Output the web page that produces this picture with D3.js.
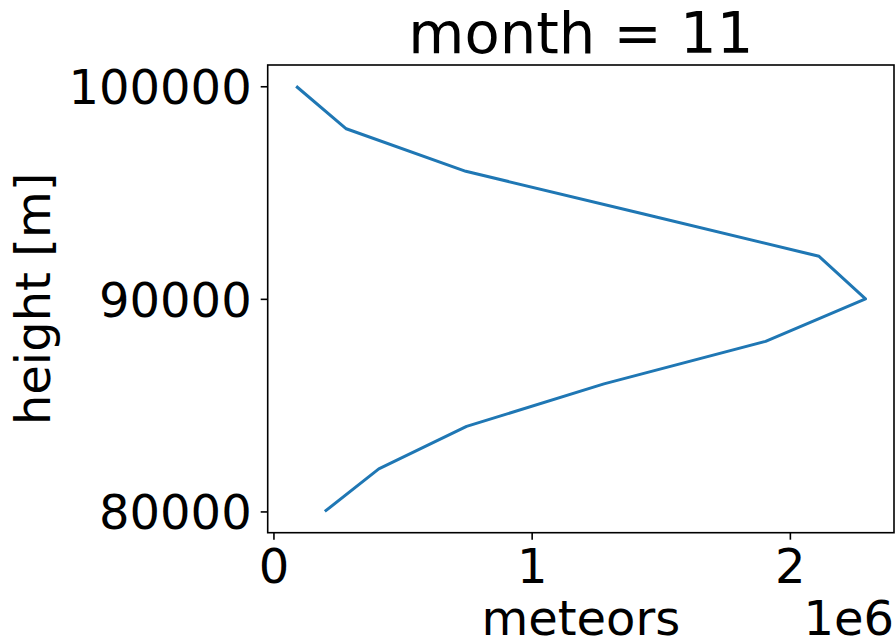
<!DOCTYPE html>
<html>
<head>
<meta charset="utf-8">
<script src="https://cdn.jsdelivr.net/npm/d3@7"></script>
<style>
  html, body { margin: 0; padding: 0; background: #fff; }
  svg { display: block; font-family: "DejaVu Sans", sans-serif; }
</style>
</head>
<body>
<svg id="chart" width="896" height="641"></svg>
<script>
const heights = [80000, 82000, 84000, 86000, 88000, 90000, 92000, 94000, 96000, 98000, 100000];
const meteors = [199000, 408000, 748000, 1280000, 1906000, 2293000, 2113000, 1430000, 745000, 282000, 88000];
const xTicks = [0, 1000000, 2000000];
const yTicks = [80000, 90000, 100000];
const titleText = "month = 11";
const xLabel = "meteors";
const yLabel = "height [m]";
const offsetText = "1e6";

const W = 896, H = 641;
const margin = {left: 267.7, right: 2, top: 65, bottom: 108.3};
const iw = W - margin.left - margin.right;
const ih = H - margin.top - margin.bottom;

const svg = d3.select("#chart");
const g = svg.append("g").attr("transform", `translate(${margin.left},${margin.top})`);

const pad = (ext) => { const r = ext[1] - ext[0]; return [ext[0] - 0.05 * r, ext[1] + 0.05 * r]; };
const x = d3.scaleLinear().domain(pad(d3.extent(meteors))).range([0, iw]);
const y = d3.scaleLinear().domain(pad(d3.extent(heights))).range([ih, 0]);

const data = heights.map((h, i) => ({h, m: meteors[i]}));

g.append("path")
  .datum(data)
  .attr("fill", "none")
  .attr("stroke", "#1f77b4")
  .attr("stroke-width", 3)
  .attr("stroke-linejoin", "round")
  .attr("d", d3.line().x(d => x(d.m)).y(d => y(d.h)));

const fs = 48;
const xAxis = g.append("g").attr("transform", `translate(0,${ih})`)
  .call(d3.axisBottom(x).tickValues(xTicks).tickFormat(d => d3.format("d")(d / 1e6)).tickSize(7).tickPadding(7));
const yAxis = g.append("g")
  .call(d3.axisLeft(y).tickValues(yTicks).tickFormat(d3.format("d")).tickSize(7).tickPadding(9));

[xAxis, yAxis].forEach(a => {
  a.select(".domain").remove();
  a.selectAll(".tick line").attr("stroke", "#000").attr("stroke-width", 1.6);
  a.selectAll(".tick text").attr("font-size", fs).attr("fill", "#000").attr("font-family", "DejaVu Sans");
});
xAxis.selectAll(".tick text").attr("dy", "0.76em");
yAxis.selectAll(".tick text").attr("dy", "0.36em");

g.append("rect")
  .attr("x", 0).attr("y", 0).attr("width", iw).attr("height", ih)
  .attr("fill", "none").attr("stroke", "#000").attr("stroke-width", 1.6);

svg.append("text")
  .attr("x", margin.left + iw / 2).attr("y", 53)
  .attr("text-anchor", "middle").attr("font-size", 57.6).attr("fill", "#000")
  .text(titleText);

svg.append("text")
  .attr("x", margin.left + iw / 2).attr("y", 635)
  .attr("text-anchor", "middle").attr("font-size", fs).attr("fill", "#000")
  .text(xLabel);

svg.append("text")
  .attr("x", margin.left + iw).attr("y", 635)
  .attr("text-anchor", "end").attr("font-size", fs).attr("fill", "#000")
  .text(offsetText);

svg.append("text")
  .attr("transform", `translate(50,${margin.top + ih / 2}) rotate(-90)`)
  .attr("text-anchor", "middle").attr("font-size", fs).attr("fill", "#000")
  .text(yLabel);
</script>
</body>
</html>
